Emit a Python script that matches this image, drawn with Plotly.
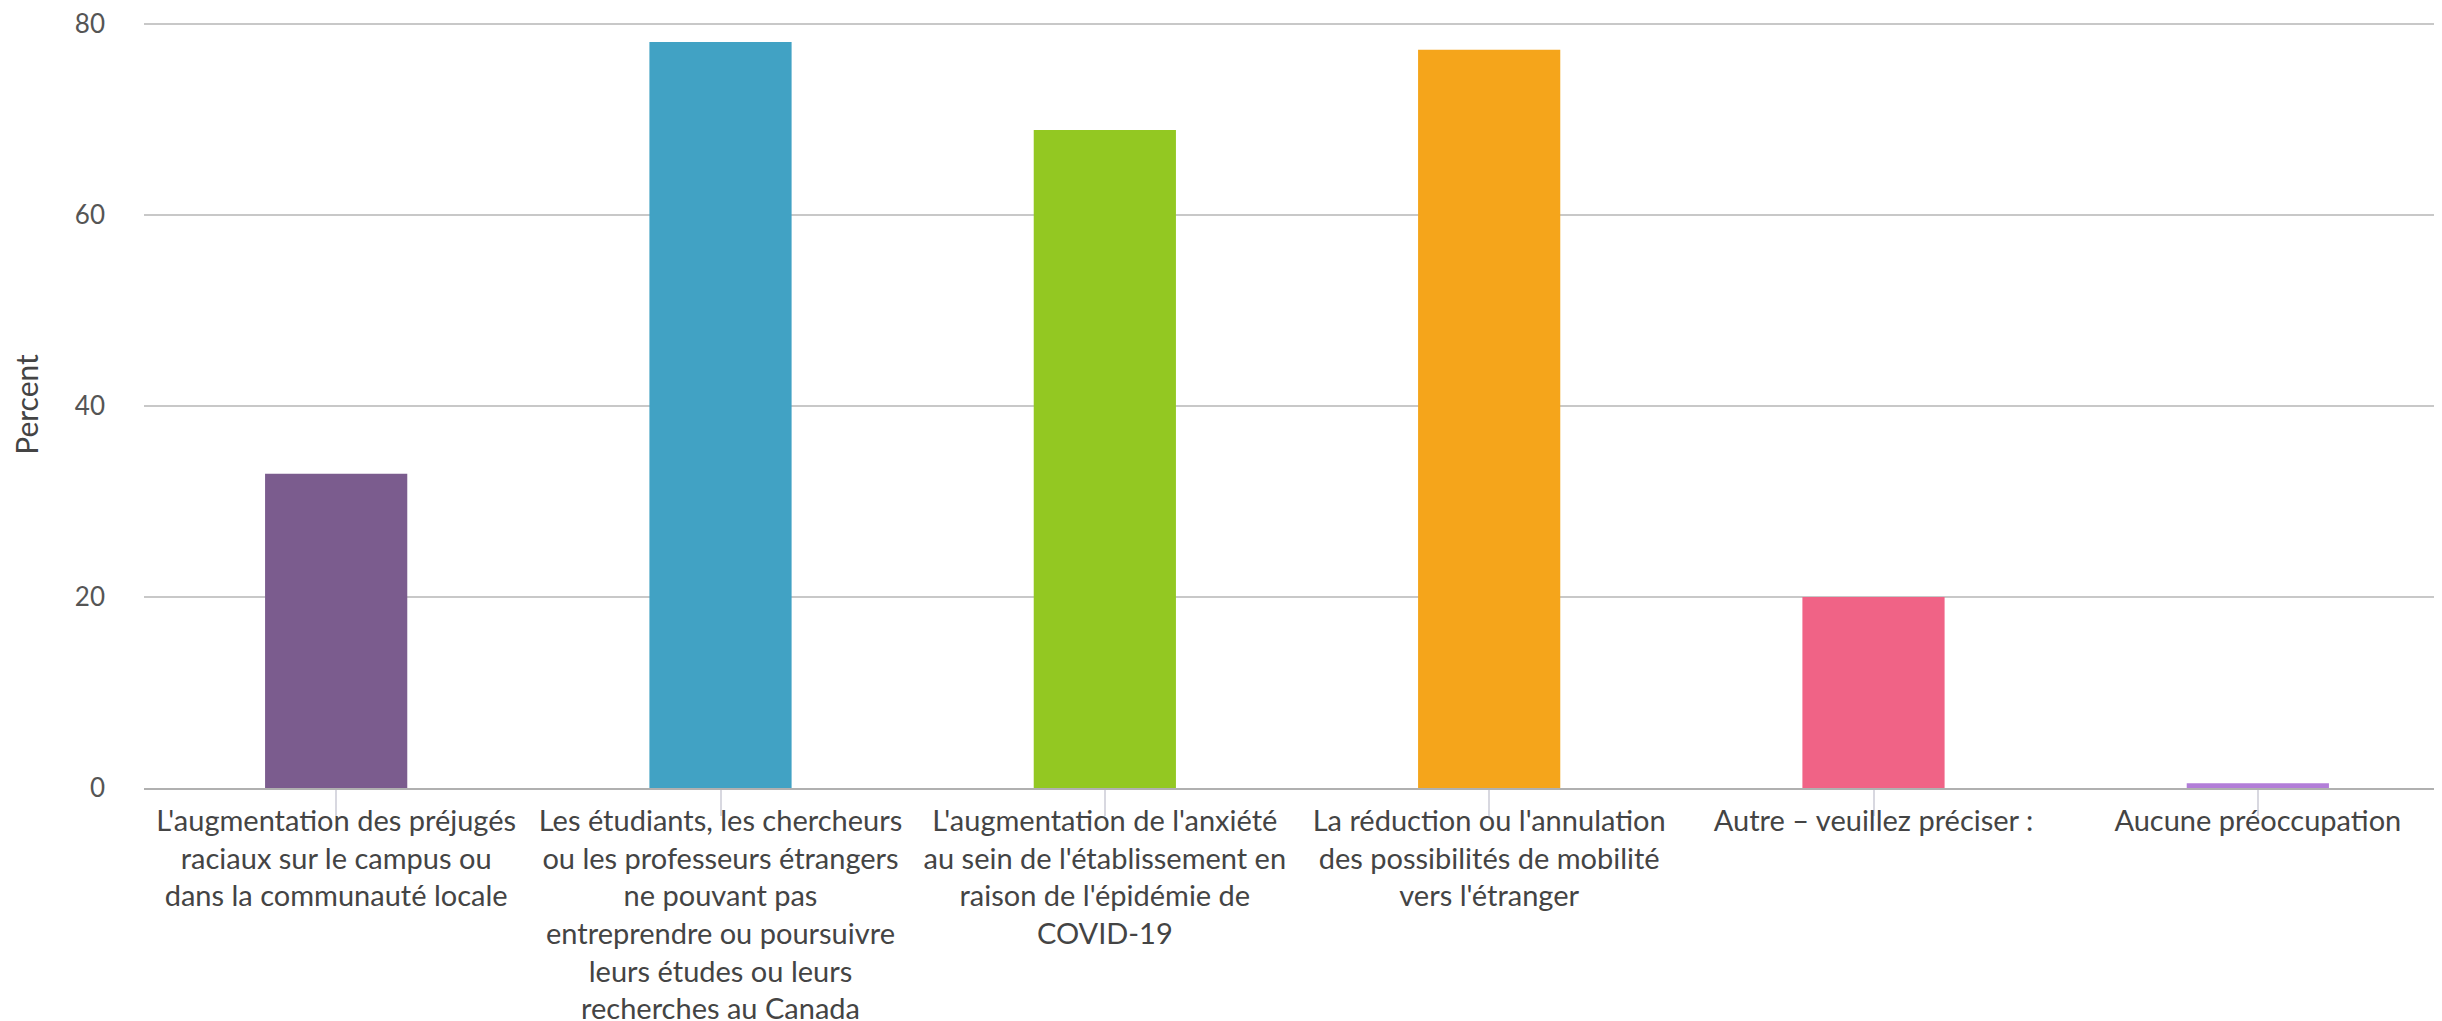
import plotly.graph_objects as go

categories = [
    "L'augmentation des préjugés<br>raciaux sur le campus ou<br>dans la communauté locale",
    "Les étudiants, les chercheurs<br>ou les professeurs étrangers<br>ne pouvant pas<br>entreprendre ou poursuivre<br>leurs études ou leurs<br>recherches au Canada",
    "L'augmentation de l'anxiété<br>au sein de l'établissement en<br>raison de l'épidémie de<br>COVID-19",
    "La réduction ou l'annulation<br>des possibilités de mobilité<br>vers l'étranger",
    "Autre – veuillez préciser :",
    "Aucune préoccupation",
]
percent = [32.9, 78.1, 68.9, 77.3, 20.0, 0.5]
bar_colors = ["#7B5C8E", "#41A2C4", "#93C822", "#F5A51B", "#F06386", "#B27ED8"]
y_ticks = [0, 20, 40, 60, 80]

fig = go.Figure(go.Bar(
    x=list(range(len(categories))),
    y=percent,
    marker=dict(color=bar_colors, line=dict(width=0)),
    width=0.37,
    hovertemplate="%{y:.1f}%<extra></extra>",
))

fig.update_layout(
    width=2442,
    height=1021,
    paper_bgcolor="white",
    plot_bgcolor="white",
    showlegend=False,
    margin=dict(l=136, r=0, t=13, b=241),
    font=dict(family="Lato", size=29, color="#444444"),
    xaxis=dict(
        tickmode="array",
        tickvals=list(range(len(categories))),
        ticktext=categories,
        range=[-0.5, len(categories) - 0.5],
        showgrid=False,
        showline=True,
        linecolor="#b0b0b0",
        linewidth=2,
        ticks="outside",
        tickson="boundaries",
        ticklen=26,
        tickcolor="#d8d8e0",
        tickwidth=2,
        tickangle=0,
        ticklabelstandoff=-20,
        tickfont=dict(family="Lato", size=29, color="#444444"),
    ),
    yaxis=dict(
        range=[0, 80.3],
        tickmode="array",
        tickvals=y_ticks,
        ticktext=[str(v) for v in y_ticks],
        showgrid=True,
        gridcolor="#c8c8c8",
        gridwidth=2,
        zeroline=False,
        showline=False,
        ticks="",
        ticklabeloverflow="allow",
        ticklabelstandoff=38,
        tickfont=dict(family="Lato", size=26, color="#555555"),
        title=dict(text="Percent", font=dict(family="Lato", size=30, color="#444444"), standoff=36),
    ),
)

fig.write_html("out.html")
